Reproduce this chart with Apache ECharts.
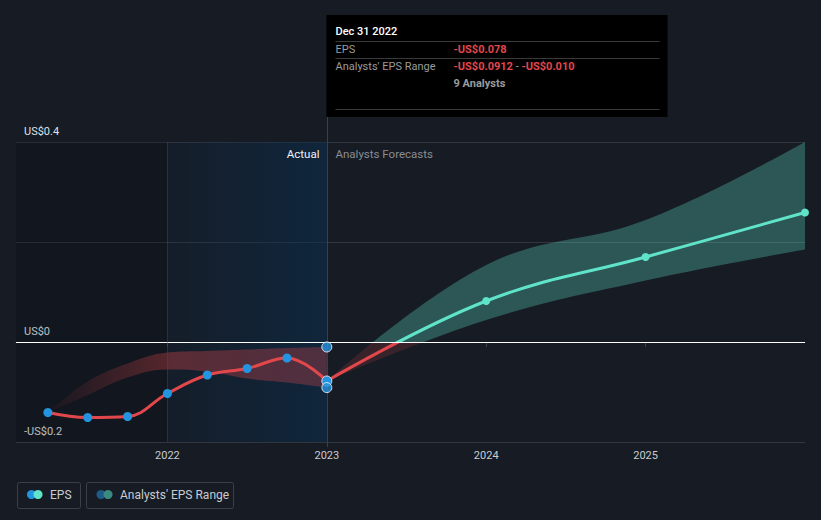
<!DOCTYPE html>
<html>
<head>
<meta charset="utf-8">
<script src="https://cdn.jsdelivr.net/npm/echarts@6/dist/echarts.min.js"></script>
<style>
  html, body { margin: 0; padding: 0; background: #161b24; }
  #chart { width: 821px; height: 520px; }
</style>
</head>
<body>
<div id="chart"></div>
<script>
// ---- data ----
const pastX         = [2021.25, 2021.5, 2021.75, 2022.0, 2022.25, 2022.5, 2022.75, 2023.0];
const pastEps       = [-0.141, -0.151, -0.149, -0.103, -0.066, -0.053, -0.032, -0.078];
const pastRangeLow  = [-0.141, -0.106, -0.071, -0.055, -0.059, -0.073, -0.081, -0.0912];
const pastRangeHigh = [-0.141, -0.079, -0.043, -0.021, -0.018, -0.015, -0.012, -0.010];

const forecastX     = [2023.0, 2024.0, 2025.0, 2026.0];
const forecastEps   = [-0.078, 0.082, 0.170, 0.259];
const forecastLow   = [-0.078, 0.044, 0.123, 0.185];
const forecastHigh  = [-0.078, 0.154, 0.244, 0.400];

const yearTicks     = [2022, 2023, 2024, 2025];
const yLabelValues  = [-0.2, 0, 0.4];

const tipDate       = 'Dec 31 2022';
const tipX          = 2023.0;
const tipEps        = -0.078;
const tipLow        = -0.0912;
const tipHigh       = -0.010;
const tipAnalysts   = 9;

// ---- helpers ----
const RED = '#e2474c', CYAN = '#5fe3c9', BLUE = '#2394df';
const FONT = 'Roboto, "Noto Sans", sans-serif';
function money(v) {
  let s = Math.abs(v).toFixed(4);
  if (s.endsWith('0')) s = s.slice(0, -1);
  return (v < 0 ? '-' : '') + 'US$' + s;
}
function axisMoney(v) {
  const s = String(parseFloat(Math.abs(v).toFixed(2)));
  return (v < -1e-9 ? '-' : '') + 'US$' + s;
}
const pair = (xs, ys) => xs.map((x, i) => [x, ys[i]]);
// band series store [y, x] so that the y dimension is the one that gets stacked
const pairYX = (xs, ys) => xs.map((x, i) => [ys[i], x]);
const diff = (hi, lo) => hi.map((h, i) => +(h - lo[i]).toFixed(5));

const chart = echarts.init(document.getElementById('chart'), null, { renderer: 'svg' });

const bandBase = {
  type: 'line', smooth: 0.4, showSymbol: false, symbol: 'none', silent: true,
  encode: { x: 1, y: 0 }, stackStrategy: 'all',
  lineStyle: { opacity: 0, width: 0 }
};

const option = {
  animation: false,
  backgroundColor: '#161b24',
  textStyle: { fontFamily: FONT },
  grid: { left: 16, right: 16, top: 142, bottom: 78 },
  xAxis: {
    type: 'value', min: 2021.05, max: 2026,
    axisLine: { lineStyle: { color: '#3b414b', width: 1 } },
    axisTick: { show: true, customValues: yearTicks, length: 5, lineStyle: { color: '#3b414b' } },
    axisLabel: { customValues: yearTicks, formatter: v => String(Math.round(v)),
                 color: '#c9ccd1', fontSize: 11, margin: 8, fontFamily: FONT },
    splitLine: { show: false }
  },
  yAxis: {
    type: 'value', min: -0.2, max: 0.4, interval: 0.2,
    axisLine: { show: false }, axisTick: { show: false },
    splitLine: { lineStyle: { color: '#30353e', width: 1 } },
    axisLabel: { inside: true, customValues: yLabelValues, formatter: axisMoney,
                 color: '#dfe1e5', fontSize: 11, align: 'left', verticalAlign: 'bottom',
                 padding: [0, 0, 5, 0], margin: 8, fontFamily: FONT }
  },
  visualMap: [
    { type: 'piecewise', show: false, seriesIndex: 4, dimension: 1,
      pieces: [{ gte: -1, lt: 0, color: RED }, { gte: 0, lte: 1, color: CYAN }] },
    { type: 'piecewise', show: false, seriesIndex: 3, dimension: 0,
      pieces: [{ gte: -1, lt: 0, color: 'rgba(226,71,76,0.17)' }, { gte: 0, lte: 1, color: 'rgba(95,227,201,0.30)' }] }
  ],
  series: [
    Object.assign({}, bandBase, { // 0: past range lower (stack base) + background regions
      name: 'pastLow', stack: 'past', data: pairYX(pastX, pastRangeLow),
      markArea: {
        silent: true,
        data: [
          [{ xAxis: 2021.05, itemStyle: { color: 'rgba(0,0,0,0.16)' } }, { xAxis: 2022 }],
          [{ xAxis: 2022, itemStyle: { color: { type: 'linear', x: 0, y: 0, x2: 1, y2: 0,
              colorStops: [{ offset: 0, color: 'rgba(10,47,79,0.12)' }, { offset: 1, color: 'rgba(10,47,79,0.55)' }] } } },
           { xAxis: 2023 }]
        ]
      },
      markLine: {
        silent: true, symbol: 'none', label: { show: false },
        data: [
          { yAxis: 0, lineStyle: { color: '#ffffff', width: 1, type: 'solid' } },
          { xAxis: 2022, lineStyle: { color: 'rgba(45,85,125,0.45)', width: 1, type: 'solid' } }
        ]
      }
    }),
    Object.assign({}, bandBase, { // 1: past range band
      name: 'pastRange', stack: 'past', data: pairYX(pastX, diff(pastRangeHigh, pastRangeLow)),
      areaStyle: { opacity: 1, color: { type: 'linear', x: 0, y: 0, x2: 1, y2: 0,
        colorStops: [{ offset: 0, color: 'rgba(226,71,76,0.03)' }, { offset: 0.45, color: 'rgba(226,71,76,0.34)' },
                     { offset: 1, color: 'rgba(226,71,76,0.30)' }] } }
    }),
    Object.assign({}, bandBase, { // 2: forecast range lower (stack base)
      name: 'fcLow', stack: 'fc', data: pairYX(forecastX, forecastLow)
    }),
    Object.assign({}, bandBase, { // 3: forecast range band
      name: 'fcRange', stack: 'fc', data: pairYX(forecastX, diff(forecastHigh, forecastLow)),
      areaStyle: { opacity: 1 }
    }),
    { // 4: forecast EPS line
      type: 'line', name: 'fcEps', smooth: 0.4, z: 4,
      data: pair(forecastX, forecastEps),
      symbol: 'circle', symbolSize: (v, p) => p.dataIndex === 0 ? 0 : 8,
      lineStyle: { width: 3 }
    },
    { // 5: actual EPS line
      type: 'line', name: 'EPS', smooth: 0.4, z: 5,
      data: pair(pastX, pastEps),
      symbol: 'circle', symbolSize: 9,
      lineStyle: { width: 3, color: RED },
      itemStyle: { color: BLUE }
    },
    { // 6: highlighted points at the tooltip date
      type: 'scatter', z: 10, symbolSize: 10,
      data: [[tipX, tipHigh], [tipX, tipEps], [tipX, tipLow]],
      itemStyle: { color: BLUE, borderColor: '#ffffff', borderWidth: 1 }
    }
  ]
};
chart.setOption(option);

// ---- annotations positioned via the chart's own scales ----
const gridTop = chart.convertToPixel({ gridIndex: 0 }, [2023, 0.4])[1];
const gridBottom = chart.convertToPixel({ gridIndex: 0 }, [2023, -0.2])[1];
const xTip = Math.round(chart.convertToPixel({ gridIndex: 0 }, [tipX, 0])[0]) + 0.5;

const boxL = xTip - 1, boxT = 15, boxW = 341, boxH = 102;
const tx = boxL + 9, vx = boxL + 127;
const grey = '#9b9b9b';

chart.setOption({
  graphic: [
    { type: 'line', silent: true, z: 3, shape: { x1: xTip, y1: boxT + boxH, x2: xTip, y2: gridBottom + 5 },
      style: { stroke: '#2c4358', lineWidth: 1 } },
    { type: 'text', silent: true, z: 20, x: xTip - 8, y: gridTop + 12,
      style: { text: 'Actual', fill: '#f0f1f3', font: '11.5px ' + FONT, align: 'right', verticalAlign: 'middle' } },
    { type: 'text', silent: true, z: 20, x: xTip + 8, y: gridTop + 12,
      style: { text: 'Analysts Forecasts', fill: '#8a8d93', font: '11.5px ' + FONT, align: 'left', verticalAlign: 'middle' } },
    { type: 'group', z: 100, silent: true, children: [
      { type: 'rect', z: 100, shape: { x: boxL, y: boxT, width: boxW, height: boxH }, style: { fill: '#000000' } },
      { type: 'text', z: 101, x: tx, y: boxT + 16, style: { text: tipDate, fill: '#ffffff', font: '500 11px ' + FONT, verticalAlign: 'middle' } },
      { type: 'line', z: 101, shape: { x1: tx, y1: boxT + 26.5, x2: boxL + boxW - 8, y2: boxT + 26.5 }, style: { stroke: '#3a3a3a', lineWidth: 1 } },
      { type: 'text', z: 101, x: tx, y: boxT + 34, style: { text: 'EPS', fill: grey, font: '11px ' + FONT, verticalAlign: 'middle' } },
      { type: 'text', z: 101, x: vx, y: boxT + 34, style: { text: money(tipEps), fill: RED, font: 'bold 11px ' + FONT, verticalAlign: 'middle' } },
      { type: 'line', z: 101, shape: { x1: tx, y1: boxT + 43.5, x2: boxL + boxW - 8, y2: boxT + 43.5 }, style: { stroke: '#3a3a3a', lineWidth: 1 } },
      { type: 'text', z: 101, x: tx, y: boxT + 51, style: { text: "Analysts' EPS Range", fill: grey, font: '11px ' + FONT, verticalAlign: 'middle' } },
      { type: 'text', z: 101, x: vx, y: boxT + 51, style: {
          text: '{r|' + money(tipLow) + '}{g| - }{r|' + money(tipHigh) + '}', verticalAlign: 'middle',
          rich: { r: { fill: RED, fontWeight: 'bold', fontSize: 11, fontFamily: FONT },
                  g: { fill: grey, fontSize: 11, fontFamily: FONT } } } },
      { type: 'text', z: 101, x: vx, y: boxT + 68, style: { text: tipAnalysts + ' Analysts', fill: grey, font: 'bold 11px ' + FONT, verticalAlign: 'middle' } },
      { type: 'line', z: 101, shape: { x1: tx, y1: boxT + 94.5, x2: boxL + boxW - 8, y2: boxT + 94.5 }, style: { stroke: '#3a3a3a', lineWidth: 1 } }
    ]},
    { type: 'group', silent: true, children: [
      { type: 'rect', shape: { x: 17.5, y: 482.5, width: 63, height: 26, r: 2 }, style: { fill: 'none', stroke: '#3a404a', lineWidth: 1 } },
      { type: 'circle', shape: { cx: 31.5, cy: 494.5, r: 4.5 }, style: { fill: BLUE } },
      { type: 'circle', shape: { cx: 38, cy: 494.5, r: 4.5 }, style: { fill: CYAN } },
      { type: 'text', x: 50, y: 495, style: { text: 'EPS', fill: '#c9ccd1', font: '12px ' + FONT, verticalAlign: 'middle' } },
      { type: 'rect', shape: { x: 86.5, y: 482.5, width: 147, height: 26, r: 2 }, style: { fill: 'none', stroke: '#3a404a', lineWidth: 1 } },
      { type: 'circle', shape: { cx: 101, cy: 494.5, r: 4.5 }, style: { fill: '#1f5b89' } },
      { type: 'circle', shape: { cx: 108, cy: 494.5, r: 4.5 }, style: { fill: '#3b8a80' } },
      { type: 'text', x: 120, y: 495, style: { text: "Analysts' EPS Range", fill: '#c9ccd1', font: '12px ' + FONT, verticalAlign: 'middle' } }
    ]}
  ]
});
</script>
</body>
</html>
